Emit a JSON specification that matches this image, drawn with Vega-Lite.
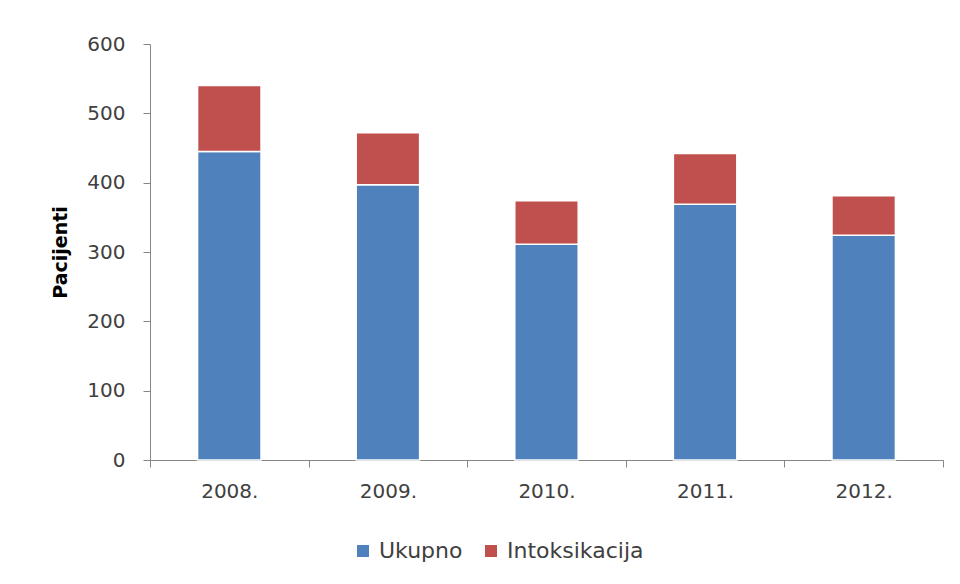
{
  "$schema": "https://vega.github.io/schema/vega-lite/v6.json",
  "width": 793,
  "height": 416,
  "autosize": {"type": "none"},
  "padding": {"left": 150, "top": 44, "right": 17, "bottom": 124},
  "background": "white",
  "config": {
    "view": {"stroke": null},
    "font": "DejaVu Sans"
  },
  "data": {
    "values": [
      {"year": "2008.", "series": "Ukupno", "o": 1, "value": 445},
      {"year": "2008.", "series": "Intoksikacija", "o": 2, "value": 95},
      {"year": "2009.", "series": "Ukupno", "o": 1, "value": 397},
      {"year": "2009.", "series": "Intoksikacija", "o": 2, "value": 75},
      {"year": "2010.", "series": "Ukupno", "o": 1, "value": 311},
      {"year": "2010.", "series": "Intoksikacija", "o": 2, "value": 63},
      {"year": "2011.", "series": "Ukupno", "o": 1, "value": 369},
      {"year": "2011.", "series": "Intoksikacija", "o": 2, "value": 73},
      {"year": "2012.", "series": "Ukupno", "o": 1, "value": 324},
      {"year": "2012.", "series": "Intoksikacija", "o": 2, "value": 57}
    ]
  },
  "mark": {"type": "bar", "stroke": "white", "strokeWidth": 1.5, "width": {"band": 0.4}},
  "encoding": {
    "x": {
      "field": "year",
      "type": "nominal",
      "sort": null,
      "scale": {"paddingInner": 0, "paddingOuter": 0},
      "axis": {
        "title": null,
        "labelAngle": 0,
        "tickBand": "extent",
        "domainColor": "#868686",
        "tickColor": "#868686",
        "tickSize": 7,
        "labelFontSize": 20,
        "labelColor": "#404040",
        "labelPadding": 14
      }
    },
    "y": {
      "field": "value",
      "type": "quantitative",
      "stack": "zero",
      "scale": {"domain": [0, 600]},
      "axis": {
        "title": "Pacijenti",
        "titleFontSize": 19,
        "titleFontWeight": "bold",
        "titleColor": "#000000",
        "titlePadding": 16,
        "values": [0, 100, 200, 300, 400, 500, 600],
        "grid": false,
        "domainColor": "#868686",
        "tickColor": "#868686",
        "tickSize": 7,
        "labelFontSize": 20,
        "labelColor": "#404040",
        "labelPadding": 18
      }
    },
    "color": {
      "field": "series",
      "type": "nominal",
      "scale": {"domain": ["Ukupno", "Intoksikacija"], "range": ["#4F81BD", "#C0504D"]},
      "legend": {
        "title": null,
        "orient": "none",
        "direction": "horizontal",
        "legendX": 202,
        "legendY": 496,
        "symbolType": "square",
        "symbolSize": 144,
        "symbolStrokeWidth": 0,
        "labelFontSize": 22,
        "labelColor": "#404040",
        "labelOffset": 5,
        "columnPadding": 17
      }
    },
    "order": {"field": "o", "type": "quantitative"}
  }
}
